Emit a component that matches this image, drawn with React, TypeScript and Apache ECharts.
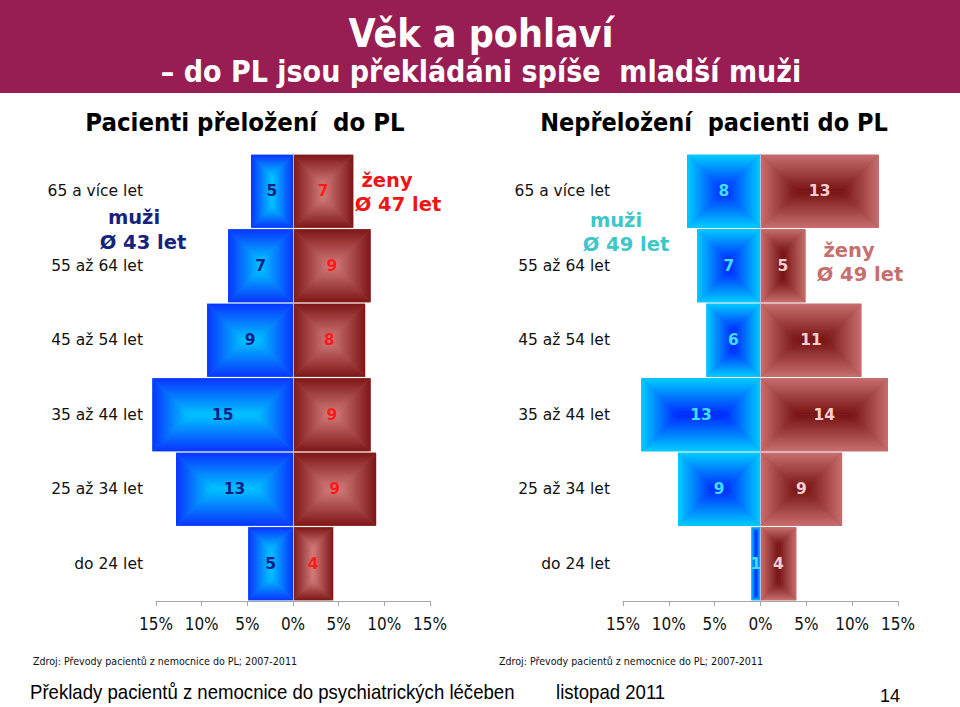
import React, { useEffect, useRef } from 'react';
import * as echarts from 'echarts';

// ---- data ----
const ageGroups = ['do 24 let', '25 až 34 let', '35 až 44 let', '45 až 54 let', '55 až 64 let', '65 a více let'];
// transferred patients (% share), men shown to the left
const transferredMen = [4.9, 12.8, 15.4, 9.4, 7.1, 4.6];
const transferredWomen = [4.4, 9.1, 8.5, 7.9, 8.5, 6.6];
// not transferred patients
const otherMen = [1, 9, 13, 5.9, 6.9, 8];
const otherWomen = [3.9, 8.9, 13.9, 11, 4.9, 12.9];
// axis ticks
const axisMin = -15;
const axisMax = 15;
const axisStep = 5;

const titleMain = 'Věk a pohlaví';
const titleSub = '– do PL jsou překládáni spíše  mladší muži';
const leftHeader = 'Pacienti přeložení  do PL';
const rightHeader = 'Nepřeložení  pacienti do PL';
const sourceText = 'Zdroj: Převody pacientů z nemocnice do PL; 2007-2011';
const footerText = 'Překlady pacientů z nemocnice do psychiatrických léčeben';
const footerDate = 'listopad 2011';
const pageNo = '14';

const COND = '"DejaVu Sans Condensed", "DejaVu Sans", sans-serif';
const VERD = '"DejaVu Sans", Verdana, sans-serif';
const ARIAL = '"Liberation Sans", Arial, sans-serif';

function makeRenderItem(edge: string, center: string, mid: string, labelColor: string) {
  return (params: any, api: any) => {
    const val = api.value(0);
    const cat = api.value(1);
    const a = api.coord([0, cat]);
    const b = api.coord([val, cat]);
    const band = api.size([0, 1])[1];
    const h = band - 1.5;
    const x0 = Math.min(a[0], b[0]);
    const x1 = Math.max(a[0], b[0]);
    const w = x1 - x0;
    const y0 = a[1] - h / 2;
    const y1 = a[1] + h / 2;
    const d = Math.min(w, h) / 2;
    const lg = (gx: number, gy: number, gx2: number, gy2: number) =>
      new echarts.graphic.LinearGradient(gx, gy, gx2, gy2, [
        { offset: 0, color: edge },
        { offset: 1, color: center },
      ]);
    return {
      type: 'group',
      children: [
        { type: 'rect', shape: { x: x0, y: y0, width: w, height: h }, style: { fill: mid } },
        { type: 'polygon', shape: { points: [[x0, y0], [x1, y0], [x1 - d, y0 + d], [x0 + d, y0 + d]] }, style: { fill: lg(0, 0, 0, 1) } },
        { type: 'polygon', shape: { points: [[x0, y1], [x1, y1], [x1 - d, y1 - d], [x0 + d, y1 - d]] }, style: { fill: lg(0, 1, 0, 0) } },
        { type: 'polygon', shape: { points: [[x0, y0], [x0 + d, y0 + d], [x0 + d, y1 - d], [x0, y1]] }, style: { fill: lg(0, 0, 1, 0) } },
        { type: 'polygon', shape: { points: [[x1, y0], [x1 - d, y0 + d], [x1 - d, y1 - d], [x1, y1]] }, style: { fill: lg(1, 0, 0, 0) } },
        {
          type: 'text',
          x: (x0 + x1) / 2,
          y: a[1],
          style: {
            text: String(Math.round(Math.abs(val))),
            fill: labelColor,
            fontSize: 15.5,
            fontWeight: 'bold',
            fontFamily: VERD,
            align: 'center',
            verticalAlign: 'middle',
          },
        },
      ],
    };
  };
}

function toData(values: number[], sign: number) {
  return values.map((v, i) => [sign * v, i]);
}

export default function App() {
  const ref = useRef<HTMLDivElement>(null);
  useEffect(() => {
    if (!ref.current) return;
    const chart = echarts.init(ref.current, undefined, { renderer: 'svg' });

    const xAxisBase = (gridIndex: number) => ({
      type: 'value',
      gridIndex,
      min: axisMin,
      max: axisMax,
      interval: axisStep,
      splitLine: { show: false },
      axisLine: { show: true, onZero: false, lineStyle: { color: '#a6a6a6', width: 1 } },
      axisTick: { show: true, length: 5, lineStyle: { color: '#a6a6a6' } },
      axisLabel: {
        formatter: (v: number) => Math.abs(v) + '%',
        color: '#111',
        fontSize: 17,
        fontFamily: COND,
        margin: 14,
      },
    });
    const yLabelAxis = (gridIndex: number) => ({
      type: 'category',
      gridIndex,
      data: ageGroups,
      position: 'left',
      axisLine: { show: false, onZero: false },
      axisTick: { show: false },
      axisLabel: { color: '#111', fontSize: 15.5, fontFamily: VERD, margin: 13 },
    });
    const yZeroAxis = (gridIndex: number) => ({
      type: 'category',
      gridIndex,
      data: ageGroups,
      position: 'right',
      z: 5,
      axisLine: { show: true, onZero: true, lineStyle: { color: '#b4bedf', width: 1 } },
      axisTick: { show: false },
      axisLabel: { show: false },
    });

    const gtext = (text: string, x: number, y: number, size: number, color: string, opts: any = {}) => ({
      type: 'text',
      x,
      y,
      scaleX: opts.scaleX || 1,
      style: {
        text,
        fill: color,
        fontSize: size,
        fontWeight: opts.weight || 'normal',
        fontFamily: opts.family || VERD,
        align: opts.align || 'center',
        verticalAlign: 'middle',
      },
    });

    chart.setOption({
      animation: false,
      backgroundColor: '#ffffff',
      grid: [
        { left: 156, width: 274, top: 154, height: 447, containLabel: false },
        { left: 623, width: 275, top: 154, height: 447, containLabel: false },
      ],
      xAxis: [xAxisBase(0), xAxisBase(1)],
      yAxis: [yLabelAxis(0), yZeroAxis(0), yLabelAxis(1), yZeroAxis(1)],
      series: [
        {
          type: 'custom', name: 'muži přeložení', xAxisIndex: 0, yAxisIndex: 0, clip: false,
          encode: { x: 0, y: 1 },
          renderItem: makeRenderItem('#0a34ff', '#00c4ff', '#0a7cff', '#0b1f86'),
          data: toData(transferredMen, -1),
        },
        {
          type: 'custom', name: 'ženy přeložené', xAxisIndex: 0, yAxisIndex: 0, clip: false,
          encode: { x: 0, y: 1 },
          renderItem: makeRenderItem('#7e1616', '#d27b7b', '#a84646', '#ff1a1a'),
          data: toData(transferredWomen, 1),
        },
        {
          type: 'custom', name: 'muži nepřeložení', xAxisIndex: 1, yAxisIndex: 2, clip: false,
          encode: { x: 0, y: 1 },
          renderItem: makeRenderItem('#00cdff', '#0026ff', '#0080ff', '#3fe0ff'),
          data: toData(otherMen, -1),
        },
        {
          type: 'custom', name: 'ženy nepřeložené', xAxisIndex: 1, yAxisIndex: 2, clip: false,
          encode: { x: 0, y: 1 },
          renderItem: makeRenderItem('#c86e6e', '#761212', '#a04040', '#f6cfcf'),
          data: toData(otherWomen, 1),
        },
      ],
      graphic: [
        { type: 'rect', shape: { x: 0, y: 0, width: 960, height: 93 }, style: { fill: '#981d53' }, z: 0 },
        gtext(titleMain, 481, 33, 39, '#ffffff', { weight: 'bold', family: COND }),
        gtext(titleSub, 481, 71, 30, '#ffffff', { weight: 'bold', family: COND }),
        gtext(leftHeader, 245, 122, 25.5, '#000000', { weight: 'bold', family: COND }),
        gtext(rightHeader, 714, 122, 25, '#000000', { weight: 'bold', family: COND }),
        gtext('muži', 134, 217, 19.5, '#15237f', { weight: 'bold' }),
        gtext('Ø 43 let', 143, 242, 19.5, '#15237f', { weight: 'bold' }),
        gtext('ženy', 387, 180, 19.5, '#ee1515', { weight: 'bold' }),
        gtext('Ø 47 let', 398, 204, 19.5, '#ee1515', { weight: 'bold' }),
        gtext('muži', 616, 220, 19.5, '#3ec6c8', { weight: 'bold' }),
        gtext('Ø 49 let', 626, 244, 19.5, '#3ec6c8', { weight: 'bold' }),
        gtext('ženy', 849, 250, 19.5, '#c56f6f', { weight: 'bold' }),
        gtext('Ø 49 let', 860, 274, 19.5, '#c56f6f', { weight: 'bold' }),
        gtext(sourceText, 33, 661, 10.6, '#111111', { align: 'left', family: COND }),
        gtext(sourceText, 499, 661, 10.6, '#111111', { align: 'left', family: COND }),
        gtext(footerText, 30, 692, 20, '#000000', { align: 'left', family: ARIAL, scaleX: 0.93 }),
        gtext(footerDate, 556, 692, 20, '#000000', { align: 'left', family: ARIAL, scaleX: 0.93 }),
        gtext(pageNo, 880, 696, 18, '#000000', { align: 'left', family: ARIAL }),
      ],
    });
    return () => chart.dispose();
  }, []);
  return <div ref={ref} style={{ position: 'absolute', left: 0, top: 0, width: 960, height: 707 }} />;
}
